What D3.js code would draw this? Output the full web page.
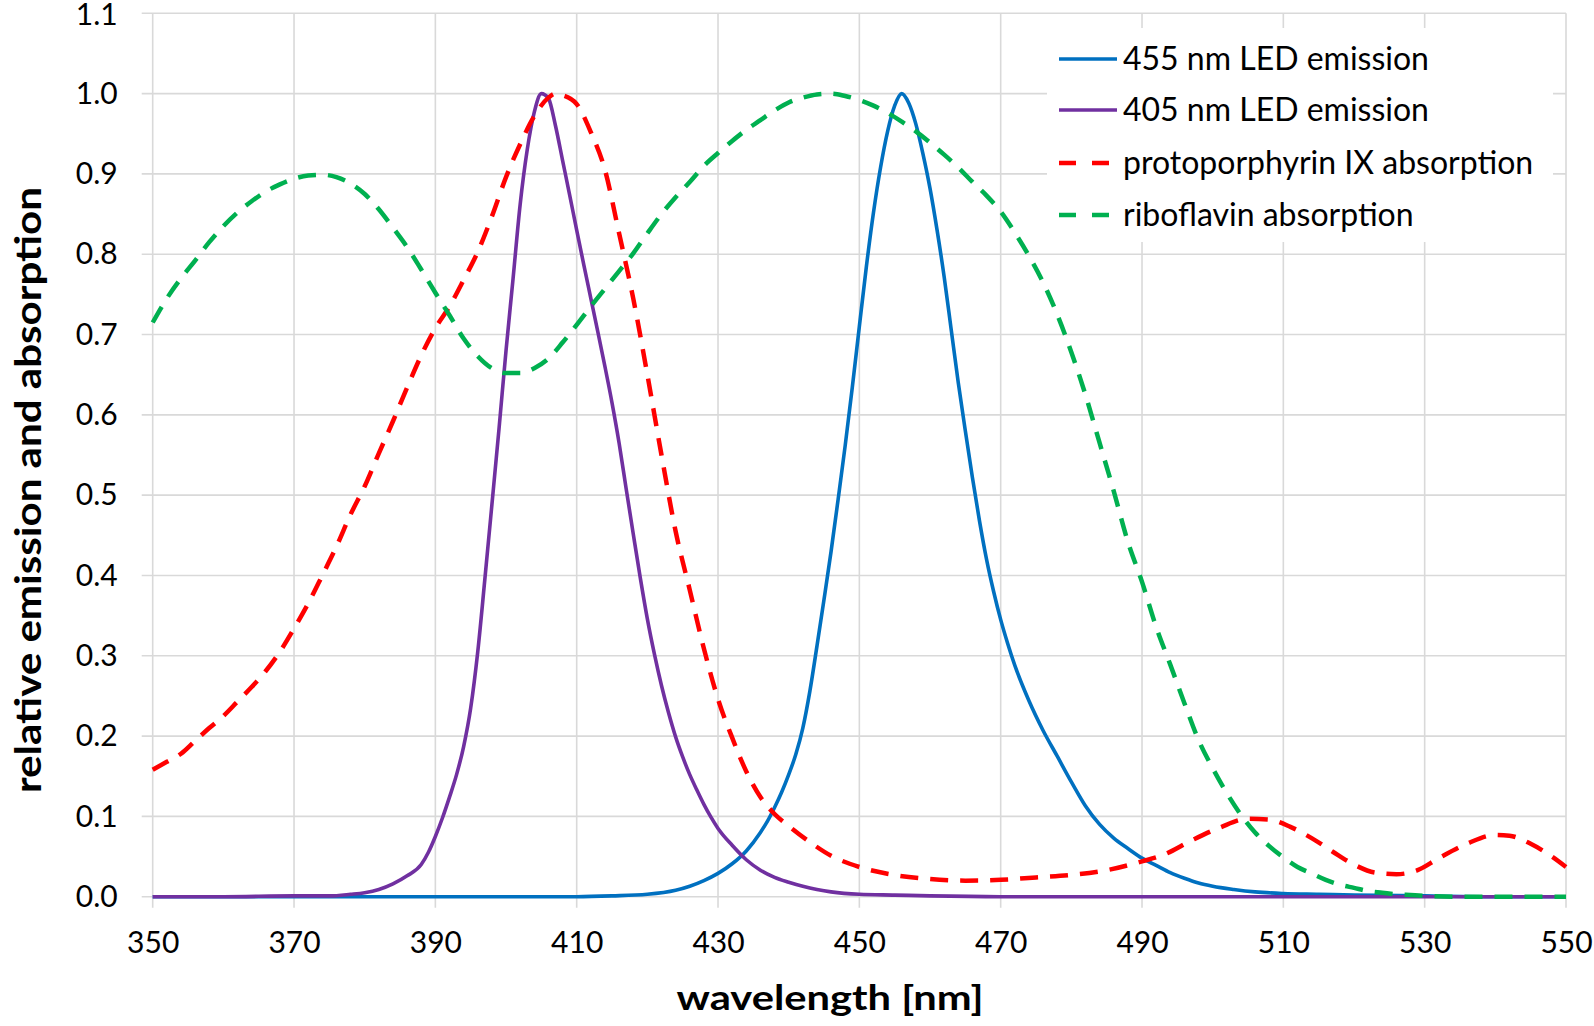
<!DOCTYPE html>
<html>
<head>
<meta charset="utf-8">
<script src="https://cdn.jsdelivr.net/npm/d3@7"></script>
<style>
  html, body { margin: 0; padding: 0; background: #fff; }
  svg { display: block; }
  text { font-family: Lato, "Open Sans", sans-serif; fill: #000; }
</style>
</head>
<body>
<svg id="chart" width="1594" height="1026"></svg>
<script>
// ---------- data ----------
const xTicks = [350, 370, 390, 410, 430, 450, 470, 490, 510, 530, 550];
const yTicks = [0, 0.1, 0.2, 0.3, 0.4, 0.5, 0.6, 0.7, 0.8, 0.9, 1.0, 1.1];

const seriesNames = ["455 nm LED emission", "405 nm LED emission", "protoporphyrin IX absorption", "riboflavin absorption"];

const led455 = [
  [350,0],[380,0],[410,0],[415,0.001],[420,0.003],[424,0.008],[426,0.013],[428,0.020],[430,0.029],
  [432,0.041],[434,0.057],[436,0.080],[437,0.094],[438,0.111],[439,0.130],[440,0.152],[441,0.177],
  [442,0.210],[443,0.256],[444,0.312],[445,0.370],[446,0.430],[447,0.495],[448,0.562],[449,0.634],
  [450,0.710],[451,0.785],[452,0.852],[453,0.908],[454,0.953],[455,0.985],[456,1.0],[457,0.988],
  [458,0.962],[459,0.925],[460,0.882],[461,0.830],[462,0.772],[463,0.706],[464,0.640],[465,0.580],
  [466,0.522],[467,0.468],[468,0.420],[469,0.380],[470,0.345],[471,0.315],[472,0.288],[474,0.244],
  [476,0.207],[478,0.175],[480,0.143],[482,0.113],[484,0.090],[486,0.073],[488,0.060],[490,0.048],
  [492,0.039],[494,0.030],[496,0.023],[498,0.017],[500,0.013],[503,0.009],[506,0.006],[510,0.004],
  [515,0.003],[520,0.002],[530,0.001],[540,0],[550,0]
];

const led405 = [
  [350,0],[360,0],[370,0.001],[375,0.001],[378,0.003],[380,0.005],[382,0.009],[384,0.016],[386,0.026],
  [388,0.040],[389,0.055],[390,0.075],[391,0.098],[392,0.124],[393,0.152],[394,0.187],[395,0.235],
  [396,0.305],[397,0.395],[398,0.488],[399,0.582],[400,0.680],[401,0.770],[402,0.862],[403,0.930],
  [404,0.977],[405,1.0],[406,0.994],[407,0.960],[408,0.917],[409,0.874],[410,0.830],[411,0.787],
  [412,0.745],[413,0.703],[414,0.660],[415,0.615],[416,0.565],[417,0.508],[418,0.452],[419,0.397],
  [420,0.346],[421,0.302],[422,0.263],[423,0.229],[424,0.199],[425,0.174],[426,0.152],[427,0.133],
  [428,0.115],[429,0.099],[430,0.085],[432,0.064],[434,0.046],[436,0.033],[438,0.024],[440,0.018],
  [442,0.013],[444,0.009],[446,0.006],[450,0.003],[455,0.002],[460,0.001],[470,0],[550,0]
];

const ppix = [
  [350,0.158],[352,0.168],[354,0.178],[356,0.194],[358,0.210],[360,0.225],[362,0.243],[364,0.261],
  [366,0.281],[368,0.305],[370,0.334],[372,0.365],[374,0.400],[376,0.436],[378,0.476],[380,0.511],
  [382,0.552],[384,0.592],[386,0.634],[388,0.674],[390,0.708],[392,0.735],[394,0.768],[396,0.803],
  [398,0.847],[400,0.896],[402,0.937],[404,0.972],[406,0.995],[407,1.0],[408,0.998],[410,0.987],
  [412,0.952],[414,0.905],[416,0.826],[418,0.745],[420,0.650],[422,0.550],[424,0.455],[426,0.382],
  [428,0.309],[430,0.246],[432,0.198],[434,0.156],[436,0.124],[438,0.103],[440,0.088],[443,0.068],
  [446,0.051],[450,0.037],[455,0.027],[460,0.022],[465,0.020],[470,0.021],[475,0.024],[480,0.027],
  [485,0.033],[490,0.044],[493,0.052],[497,0.070],[501,0.086],[505,0.097],[508,0.096],[511,0.087],
  [514,0.073],[517,0.056],[520,0.040],[523,0.030],[526,0.028],[529,0.033],[532,0.048],[536,0.066],
  [540,0.077],[542,0.076],[545,0.066],[548,0.050],[550,0.037]
];

const riboflavin = [
  [350,0.715],[352,0.745],[354,0.770],[356,0.792],[358,0.815],[360,0.835],[362,0.852],[364,0.866],
  [366,0.878],[368,0.887],[370,0.894],[372,0.898],[374,0.899],[376,0.896],[378,0.888],[380,0.875],
  [382,0.856],[384,0.833],[386,0.809],[388,0.781],[390,0.752],[392,0.724],[394,0.695],[396,0.673],
  [398,0.658],[400,0.652],[402,0.652],[404,0.658],[406,0.670],[408,0.690],[410,0.712],[412,0.735],
  [414,0.757],[416,0.779],[418,0.801],[420,0.826],[422,0.850],[424,0.871],[426,0.890],[428,0.910],
  [430,0.926],[432,0.941],[434,0.955],[436,0.967],[438,0.979],[440,0.989],[442,0.995],[444,0.999],
  [446,1.0],[448,0.997],[450,0.992],[452,0.985],[454,0.976],[456,0.965],[458,0.953],[460,0.939],
  [462,0.924],[464,0.908],[466,0.890],[468,0.873],[470,0.853],[472,0.827],[474,0.798],[476,0.765],
  [478,0.725],[480,0.678],[482,0.625],[484,0.565],[486,0.505],[488,0.442],[490,0.392],[492,0.336],
  [494,0.289],[496,0.241],[498,0.195],[500,0.160],[502,0.129],[504,0.102],[506,0.080],[508,0.063],
  [510,0.049],[512,0.037],[514,0.029],[516,0.021],[518,0.015],[520,0.011],[522,0.007],[524,0.005],
  [526,0.003],[528,0.002],[530,0.001],[535,0],[540,0],[550,0]
];

// ---------- layout ----------
const svg = d3.select("#chart");
const plotLeft = 152.7, plotRight = 1566, plotTop = 13.3, plotBottom = 896.7;

const x = d3.scaleLinear().domain([350, 550]).range([plotLeft, plotRight]);
const y = d3.scaleLinear().domain([0, 1.1]).range([plotBottom, plotTop]);

const gridColor = "#d9d9d9";

// horizontal gridlines (with short outward ticks)
svg.append("g").selectAll("line").data(yTicks).join("line")
  .attr("x1", plotLeft - 11).attr("x2", plotRight)
  .attr("y1", d => y(d)).attr("y2", d => y(d))
  .attr("stroke", gridColor).attr("stroke-width", 1.6);

// vertical gridlines (with short outward ticks)
svg.append("g").selectAll("line").data(xTicks).join("line")
  .attr("x1", d => x(d)).attr("x2", d => x(d))
  .attr("y1", plotTop).attr("y2", plotBottom + 11)
  .attr("stroke", gridColor).attr("stroke-width", 1.6);

// axes (labels only)
const yAxis = svg.append("g").attr("transform", `translate(${plotLeft},0)`)
  .call(d3.axisLeft(y).tickValues(yTicks).tickFormat(d3.format(".1f")).tickSize(0).tickPadding(35));
yAxis.select(".domain").remove();
yAxis.selectAll("text").attr("font-family", "Lato").attr("font-size", 30).attr("fill", "#000");
yAxis.selectAll("text").filter(d => d === 1.1).attr("dy", "0.36em");

const xAxis = svg.append("g").attr("transform", `translate(0,${plotBottom})`)
  .call(d3.axisBottom(x).tickValues(xTicks).tickFormat(d3.format("d")).tickSize(0).tickPadding(0));
xAxis.select(".domain").remove();
xAxis.selectAll("text").attr("font-family", "Lato").attr("font-size", 30).attr("fill", "#000")
  .attr("dy", null).attr("y", 56.5);

// axis titles
svg.append("text")
  .attr("x", 830).attr("y", 1010)
  .attr("text-anchor", "middle")
  .attr("font-weight", "bold").attr("font-size", 35)
  .attr("textLength", 307).attr("lengthAdjust", "spacingAndGlyphs")
  .text("wavelength [nm]");

svg.append("text")
  .attr("transform", "translate(41,490) rotate(-90)")
  .attr("text-anchor", "middle")
  .attr("font-weight", "bold").attr("font-size", 37)
  .attr("textLength", 606).attr("lengthAdjust", "spacingAndGlyphs")
  .text("relative emission and absorption");

// ---------- series ----------
const line = d3.line().x(d => x(d[0])).y(d => y(d[1])).curve(d3.curveMonotoneX);

const series = [
  { name: seriesNames[0], data: led455, color: "#0070C0", dash: null, width: 3.6 },
  { name: seriesNames[1], data: led405, color: "#7030A0", dash: null, width: 3.6 },
  { name: seriesNames[2], data: ppix, color: "#FF0000", dash: "18,12", width: 4.5 },
  { name: seriesNames[3], data: riboflavin, color: "#00B050", dash: "18,12", width: 4.5 }
];

svg.append("g").selectAll("path").data(series).join("path")
  .attr("d", d => line(d.data))
  .attr("fill", "none")
  .attr("stroke", d => d.color)
  .attr("stroke-width", d => d.width)
  .attr("stroke-dasharray", d => d.dash)
  .attr("stroke-linejoin", "round");

// ---------- legend ----------
const legend = svg.append("g");
legend.append("rect")
  .attr("x", 1047).attr("y", 28).attr("width", 506).attr("height", 214)
  .attr("fill", "#fff");

const rowY = [59, 110, 163, 215];
const lg = legend.selectAll("g.item").data(series).join("g").attr("class", "item")
  .attr("transform", (d, i) => `translate(0,${rowY[i]})`);
lg.append("line")
  .attr("x1", 1059).attr("x2", 1117).attr("y1", 0).attr("y2", 0)
  .attr("stroke", d => d.color)
  .attr("stroke-width", d => d.dash ? 4.5 : 3.6)
  .attr("stroke-dasharray", d => d.dash ? "17,16" : null);
lg.append("text")
  .attr("x", 1123).attr("y", 11)
  .attr("font-size", 32)
  .text(d => d.name);
</script>
</body>
</html>
